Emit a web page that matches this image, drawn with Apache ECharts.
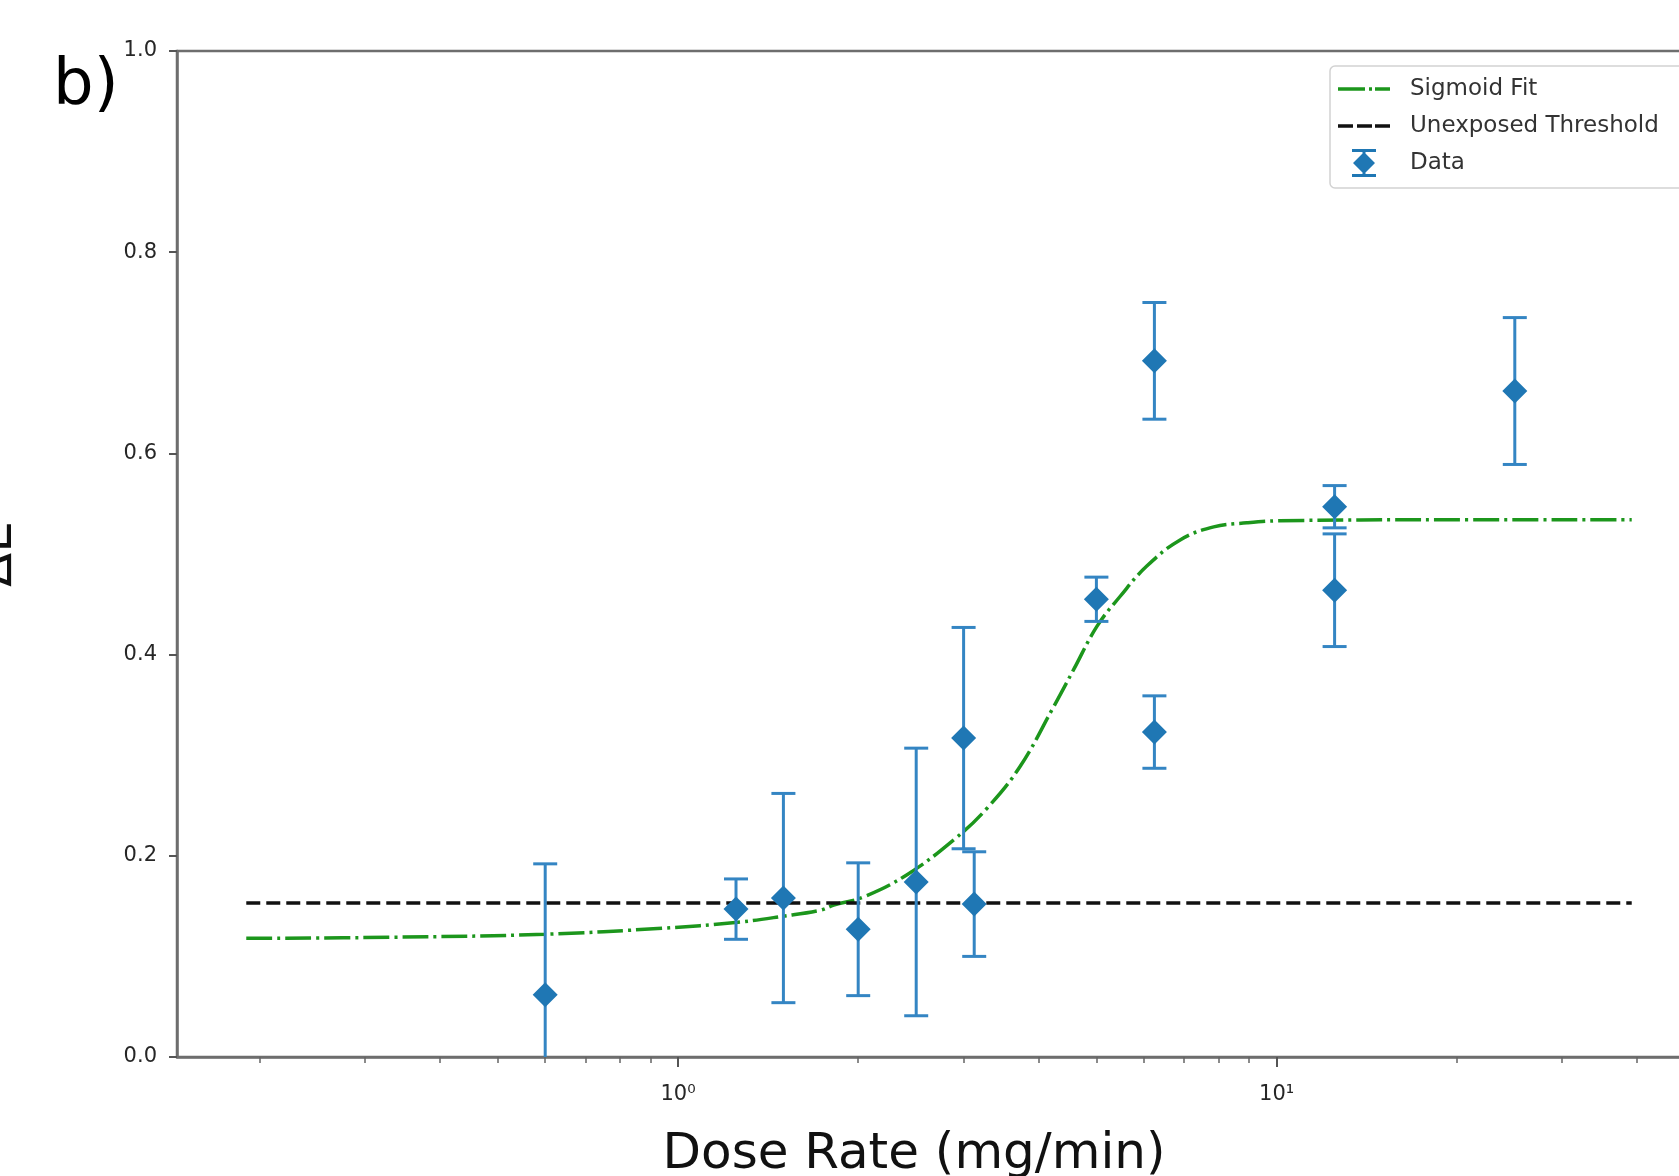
<!DOCTYPE html>
<html>
<head>
<meta charset="utf-8">
<script src="https://cdn.jsdelivr.net/npm/echarts@6/dist/echarts.min.js"></script>
<style>
  html, body { margin: 0; padding: 0; overflow: hidden; background: #fff; }
  #chart { width: 1720px; height: 1176px; }
</style>
</head>
<body>
<div id="chart"></div>
<script>
// measured data points (dose rate, ΔE, symmetric error)
const doseRate = [0.6, 1.25, 1.5, 2.0, 2.5, 3.0, 3.125, 5.0, 6.25, 6.25, 12.5, 12.5, 25.0];
const deltaE   = [0.062, 0.147, 0.158, 0.127, 0.174, 0.317, 0.152, 0.455, 0.692, 0.323, 0.547, 0.464, 0.662];
const errE     = [0.130, 0.030, 0.104, 0.066, 0.133, 0.110, 0.052, 0.022, 0.058, 0.036, 0.021, 0.056, 0.073];

// sigmoid fit curve
const fitX = [0.19, 0.33, 0.6, 0.94, 1.26, 1.5, 1.73, 1.82, 2.04, 2.41, 2.89, 3.28, 3.73, 4.24, 4.58, 5.01, 5.48, 6.07, 6.9, 7.85, 8.92, 10.1, 18.8, 39.2];
const fitY = [0.118, 0.119, 0.122, 0.128, 0.134, 0.140, 0.146, 0.151, 0.159, 0.181, 0.216, 0.247, 0.289, 0.348, 0.385, 0.428, 0.458, 0.488, 0.514, 0.527, 0.531, 0.533, 0.534, 0.534];

// unexposed threshold
const threshX = [0.19, 39.2];
const threshY = [0.153, 0.153];

// ticks
const xMajorTicks = [1, 10];
const xMinorTicks = [0.2, 0.3, 0.4, 0.5, 0.6, 0.7, 0.8, 0.9, 2, 3, 4, 5, 6, 7, 8, 9, 20, 30, 40, 50];
const supDigits = ['⁰', '¹', '²', '³'];

const FONT = 'DejaVu Sans';
const lg = Math.log10;

// matplotlib style 5% margin in log space
const lo = lg(Math.min(...fitX)), hi = lg(Math.max(...fitX));
const xMin = lo - 0.05 * (hi - lo);
const xMax = hi + 0.05 * (hi - lo);

// legend icons in a 52x28 box (the zero-size subpaths pin the box)
const pin = 'M0 0L0 0ZM52 28L52 28Z';
const fitIcon = 'path://' + pin + 'M0 12.25H27V15.75H0ZM31 12.25H34V15.75H31ZM37 12.25H52V15.75H37Z';
const threshIcon = 'path://' + pin + 'M0 12.25H15V15.75H0ZM19 12.25H34V15.75H19ZM37 12.25H52V15.75H37Z';
const dataIcon = 'path://' + pin +
    'M14 0H38V3H14ZM14 25H38V28H14ZM24.5 3H27.5V25H24.5ZM26 3L37 14L26 25L15 14Z';

const chart = echarts.init(document.getElementById('chart'));

const option = {
    animation: false,
    backgroundColor: '#fff',
    title: {
        text: 'b)',
        left: 48,
        top: 50,
        textStyle: { fontFamily: FONT, fontSize: 64, fontWeight: 'normal', color: '#000' }
    },
    legend: {
        orient: 'vertical',
        left: 1330,
        top: 66,
        selectedMode: false,
        data: [
            { name: 'Sigmoid Fit', icon: fitIcon },
            { name: 'Unexposed Threshold', icon: threshIcon },
            { name: 'Data', icon: dataIcon }
        ],
        itemWidth: 52,
        itemHeight: 28,
        itemGap: 9,
        padding: [9, 30, 11, 8],
        backgroundColor: '#fff',
        borderColor: '#d2d2d2',
        borderWidth: 1.5,
        borderRadius: 5,
        textStyle: { fontFamily: FONT, fontSize: 23, color: '#333', padding: [0, 0, 0, 15] }
    },
    grid: {
        left: 177,
        top: 51,
        right: 19,
        bottom: 119,
        containLabel: false,
        outerBoundsMode: 'none',
        show: true,
        borderColor: '#6e6e6e',
        borderWidth: 2.5
    },
    xAxis: [{
        type: 'value',
        min: xMin,
        max: xMax,
        axisLine: { show: true, onZero: false, lineStyle: { color: '#6e6e6e', width: 2.5 } },
        axisTick: {
            show: true,
            customValues: xMajorTicks.map(lg),
            length: 10,
            lineStyle: { color: '#555', width: 2 }
        },
        axisLabel: {
            customValues: xMajorTicks.map(lg),
            formatter: v => '10' + supDigits[Math.round(v)],
            margin: 27,
            fontFamily: FONT,
            fontSize: 21,
            color: '#262626'
        },
        splitLine: { show: false },
        name: 'Dose Rate (mg/min)',
        nameLocation: 'middle',
        nameGap: 73,
        nameTextStyle: { fontFamily: FONT, fontSize: 50, color: '#111', padding: [0, 50, 0, 0] }
    }, {
        type: 'value',
        min: xMin,
        max: xMax,
        position: 'bottom',
        axisLine: { show: false, onZero: false },
        axisTick: {
            show: true,
            customValues: xMinorTicks.map(lg),
            length: 6,
            lineStyle: { color: '#666', width: 1.5 }
        },
        axisLabel: { show: false },
        splitLine: { show: false }
    }],
    yAxis: {
        type: 'value',
        min: 0,
        max: 1,
        interval: 0.2,
        axisLine: { show: true, onZero: false, lineStyle: { color: '#6e6e6e', width: 2.5 } },
        axisTick: { show: true, length: 8, lineStyle: { color: '#555', width: 2 } },
        axisLabel: {
            formatter: v => v.toFixed(1),
            margin: 20,
            fontFamily: FONT,
            fontSize: 21,
            color: '#262626'
        },
        splitLine: { show: false },
        name: 'ΔE',
        nameLocation: 'middle',
        nameRotate: 90,
        nameGap: 154,
        nameTextStyle: { fontFamily: FONT, fontSize: 50, color: '#111' }
    },
    series: [{
        name: 'Sigmoid Fit',
        type: 'line',
        xAxisIndex: 0,
        data: fitX.map((x, i) => [lg(x), fitY[i]]),
        symbol: 'none',
        smooth: 0.4,
        lineStyle: { color: '#1c961c', width: 3.5, type: [26, 5, 3, 5] },
        itemStyle: { color: '#1c961c' },
        z: 2
    }, {
        name: 'Unexposed Threshold',
        type: 'line',
        xAxisIndex: 0,
        data: threshX.map((x, i) => [lg(x), threshY[i]]),
        symbol: 'none',
        lineStyle: { color: '#111', width: 3.5, type: [14, 6] },
        itemStyle: { color: '#111' },
        z: 2
    }, {
        name: 'Data',
        type: 'custom',
        xAxisIndex: 0,
        clip: true,
        data: doseRate.map((x, i) => [lg(x), deltaE[i], errE[i]]),
        encode: { x: 0, y: 1 },
        itemStyle: { color: '#1f77b4' },
        renderItem: function (params, api) {
            const x = api.value(0), y = api.value(1), e = api.value(2);
            const top = api.coord([x, y + e]);
            const bot = api.coord([x, y - e]);
            const cap = 12;
            const st = { stroke: '#3485c3', lineWidth: 3 };
            return {
                type: 'group',
                children: [
                    { type: 'line', shape: { x1: top[0], y1: top[1], x2: bot[0], y2: bot[1] }, style: st },
                    { type: 'line', shape: { x1: top[0] - cap, y1: top[1], x2: top[0] + cap, y2: top[1] }, style: st },
                    { type: 'line', shape: { x1: bot[0] - cap, y1: bot[1], x2: bot[0] + cap, y2: bot[1] }, style: st }
                ]
            };
        },
        z: 3
    }, {
        name: 'Data',
        type: 'scatter',
        xAxisIndex: 0,
        data: doseRate.map((x, i) => [lg(x), deltaE[i]]),
        symbol: 'diamond',
        symbolSize: 25,
        itemStyle: { color: '#1f77b4', opacity: 1 },
        z: 4
    }]
};

chart.setOption(option);
</script>
</body>
</html>
